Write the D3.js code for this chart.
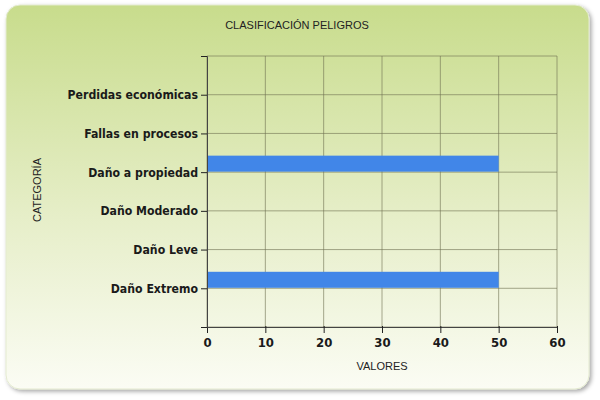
<!DOCTYPE html>
<html>
<head>
<meta charset="utf-8">
<script src="https://cdn.jsdelivr.net/npm/d3@7"></script>
<style>
  body { margin: 0; background: #fff; }
  svg text { font-family: "DejaVu Sans Condensed", "DejaVu Sans", sans-serif; }
</style>
</head>
<body>
<div id="chart"></div>
<script>
// data, bottom to top as in the picture
const categories = ["Daño Extremo", "Daño Leve", "Daño Moderado", "Daño a propiedad", "Fallas en procesos", "Perdidas económicas"];
const values = [50, 0, 0, 50, 0, 0];
const xTicks = [0, 10, 20, 30, 40, 50, 60];

const width = 600, height = 400;
const plotLeft = 207, plotRight = 557, plotTop = 56, plotBottom = 327;

const svg = d3.select("#chart").append("svg")
  .attr("width", width)
  .attr("height", height);

const defs = svg.append("defs");
const grad = defs.append("linearGradient")
  .attr("id", "bg").attr("x1", 0).attr("y1", 0).attr("x2", 0).attr("y2", 1);
grad.append("stop").attr("offset", "0%").attr("stop-color", "#c8dc8c");
grad.append("stop").attr("offset", "55%").attr("stop-color", "#e6eec8");
grad.append("stop").attr("offset", "100%").attr("stop-color", "#fbfcf4");

const shadow = defs.append("filter").attr("id", "shadow")
  .attr("x", "-5%").attr("y", "-5%").attr("width", "110%").attr("height", "110%");
shadow.append("feDropShadow")
  .attr("dx", 2).attr("dy", 2).attr("stdDeviation", 2)
  .attr("flood-color", "#000").attr("flood-opacity", 0.35);

// card
svg.append("rect")
  .attr("x", 6).attr("y", 5)
  .attr("width", 583).attr("height", 384)
  .attr("rx", 14).attr("ry", 14)
  .attr("fill", "url(#bg)")
  .attr("stroke", "#e4ebd0")
  .attr("filter", "url(#shadow)");

const x = d3.scaleLinear().domain([0, 60]).range([plotLeft, plotRight]);
const y = d3.scaleLinear().domain([0, categories.length + 1]).range([plotBottom, plotTop]);

// grid
svg.append("g").selectAll("line.v")
  .data(xTicks)
  .enter().append("line")
  .attr("x1", d => x(d)).attr("x2", d => x(d))
  .attr("y1", plotTop).attr("y2", plotBottom)
  .attr("stroke", "#6e7050").attr("stroke-opacity", 0.6);

svg.append("g").selectAll("line.h")
  .data(d3.range(0, categories.length + 2))
  .enter().append("line")
  .attr("x1", plotLeft).attr("x2", plotRight)
  .attr("y1", d => y(d)).attr("y2", d => y(d))
  .attr("stroke", "#6e7050").attr("stroke-opacity", 0.6);

// bars (sit just above the category line)
const barH = 16;
svg.append("g").selectAll("rect")
  .data(values)
  .enter().append("rect")
  .attr("x", x(0))
  .attr("y", (d, i) => y(i + 1) - barH - 0.5)
  .attr("width", d => x(d) - x(0))
  .attr("height", barH)
  .attr("fill", "#4186e8");

// axes
const xAxis = svg.append("g")
  .attr("transform", "translate(0," + plotBottom + ")")
  .call(d3.axisBottom(x).tickValues(xTicks).tickSize(6).tickPadding(5));
xAxis.select(".domain").attr("stroke", "#444");
xAxis.selectAll(".tick line").attr("stroke", "#222").attr("y1", -1);
xAxis.selectAll("text")
  .attr("font-size", 13).attr("font-weight", "bold").attr("fill", "#1a1a1a");

const yAxis = svg.append("g")
  .attr("transform", "translate(" + plotLeft + ",0)")
  .call(d3.axisLeft(y)
    .tickValues(d3.range(0, categories.length + 2))
    .tickFormat(d => categories[d - 1] || "")
    .tickSize(6).tickPadding(3));
yAxis.select(".domain").attr("stroke", "#444");
yAxis.selectAll(".tick line").attr("stroke", "#222");
yAxis.selectAll("text")
  .attr("font-size", 12.2).attr("font-weight", "bold").attr("fill", "#1a1a1a");

// titles
svg.append("text")
  .attr("x", 297).attr("y", 29)
  .attr("text-anchor", "middle")
  .attr("font-size", 11)
  .attr("fill", "#222")
  .style("font-family", "'Liberation Sans', Arial, sans-serif")
  .text("CLASIFICACIÓN PELIGROS");

svg.append("text")
  .attr("x", 382).attr("y", 370)
  .attr("text-anchor", "middle")
  .attr("font-size", 11)
  .attr("fill", "#222")
  .style("font-family", "'Liberation Sans', Arial, sans-serif")
  .text("VALORES");

svg.append("text")
  .attr("transform", "translate(41,190) rotate(-90)")
  .attr("text-anchor", "middle")
  .attr("font-size", 11)
  .attr("fill", "#222")
  .style("font-family", "'Liberation Sans', Arial, sans-serif")
  .text("CATEGORÍA");
</script>
</body>
</html>
